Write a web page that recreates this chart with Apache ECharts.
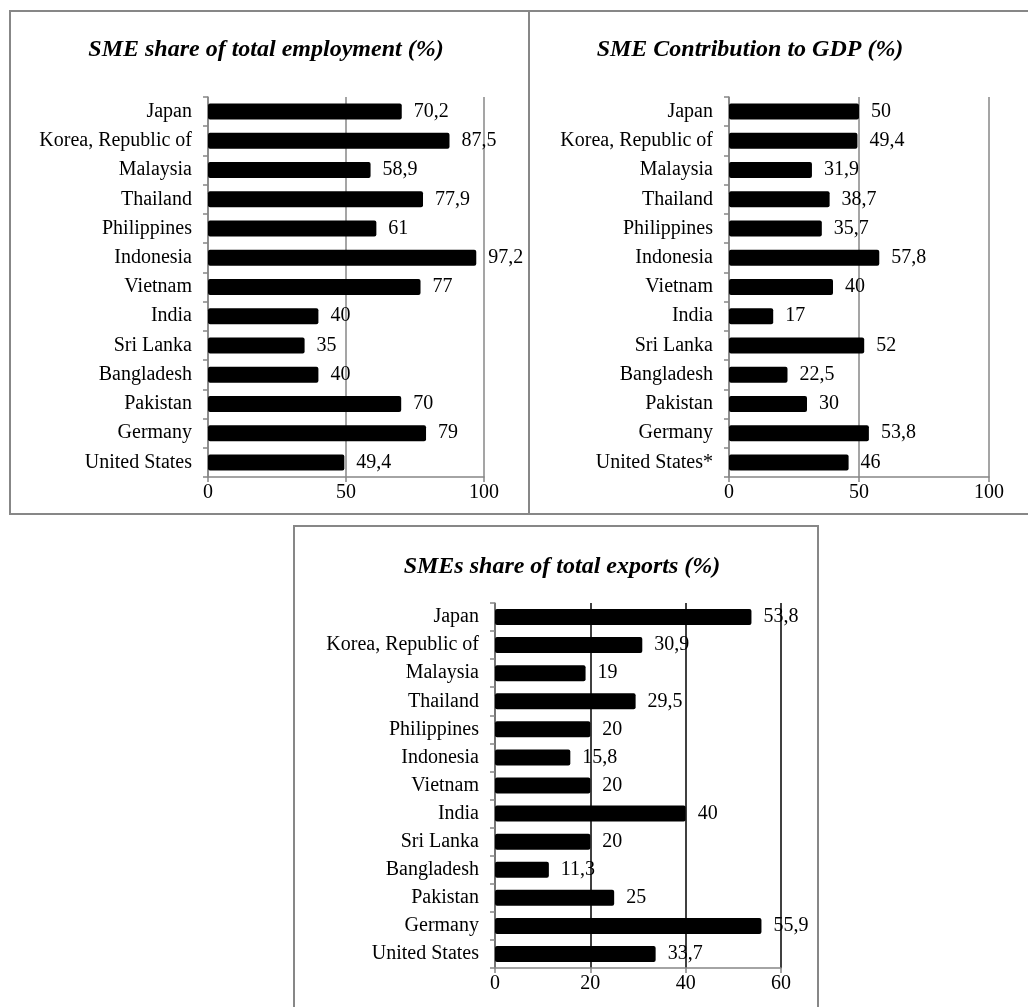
<!DOCTYPE html>
<html>
<head>
<meta charset="utf-8">
<script src="https://cdn.jsdelivr.net/npm/echarts@6/dist/echarts.min.js"></script>
<style>
  html, body { margin: 0; padding: 0; background: #fff; }
  #wrap { width: 1028px; height: 1007px; }
</style>
</head>
<body>
<div id="wrap"></div>
<script>
var countries = ['Japan', 'Korea, Republic of', 'Malaysia', 'Thailand', 'Philippines', 'Indonesia',
  'Vietnam', 'India', 'Sri Lanka', 'Bangladesh', 'Pakistan', 'Germany', 'United States'];
var countriesGdp = countries.slice(0, 12).concat(['United States*']);

var employment = [70.2, 87.5, 58.9, 77.9, 61, 97.2, 77, 40, 35, 40, 70, 79, 49.4];
var gdp = [50, 49.4, 31.9, 38.7, 35.7, 57.8, 40, 17, 52, 22.5, 30, 53.8, 46];
var exportsShare = [53.8, 30.9, 19, 29.5, 20, 15.8, 20, 40, 20, 11.3, 25, 55.9, 33.7];

var titles = ['SME share of total employment (%)', 'SME Contribution to GDP (%)', 'SMEs share of total exports (%)'];

var font = '"Liberation Serif", "Times New Roman", serif';
var gray = '#878787';

var wrap = document.getElementById('wrap');
var myChart = echarts.init(wrap);

function catAxis(idx, names) {
  return {
    type: 'category', gridIndex: idx, data: names, inverse: true,
    axisLine: { lineStyle: { color: gray, width: 1.5 } },
    axisTick: { show: true, length: 5, lineStyle: { color: gray, width: 1.5 } },
    axisLabel: { color: '#000', fontFamily: font, fontSize: 20, margin: 16 }
  };
}

function valAxis(idx, max, interval, gridColor) {
  return {
    type: 'value', gridIndex: idx, min: 0, max: max, interval: interval,
    axisLine: { show: true, lineStyle: { color: gray, width: 1.5 } },
    axisTick: { show: true, length: 5, lineStyle: { color: gray, width: 1.5 } },
    axisLabel: { color: '#000', fontFamily: font, fontSize: 20, margin: 6 },
    splitLine: { show: true, lineStyle: { color: gridColor, width: 1.5 } }
  };
}

function barSeries(idx, data) {
  return {
    type: 'bar', xAxisIndex: idx, yAxisIndex: idx, data: data,
    barWidth: 16,
    itemStyle: { color: '#000', borderRadius: 2 },
    label: {
      show: true, position: 'right', distance: 12, color: '#000',
      fontFamily: font, fontSize: 20,
      formatter: function (p) { return String(p.value).replace('.', ','); }
    },
    silent: true
  };
}

function titleOf(i, x, y) {
  return {
    text: titles[i], left: x, top: y, textAlign: 'center',
    textStyle: { fontFamily: font, fontSize: 24, fontWeight: 'bold', fontStyle: 'italic', color: '#000' }
  };
}

var option = {
  animation: false,
  title: [titleOf(0, 261, 33), titleOf(1, 745, 33), titleOf(2, 557, 550)],
  grid: [
    { left: 208, top: 97, width: 276, height: 380 },
    { left: 729, top: 97, width: 260, height: 380 },
    { left: 495, top: 603, width: 286, height: 365 }
  ],
  xAxis: [valAxis(0, 100, 50, gray), valAxis(1, 100, 50, gray), valAxis(2, 60, 20, '#000')],
  yAxis: [catAxis(0, countries), catAxis(1, countriesGdp), catAxis(2, countries)],
  series: [barSeries(0, employment), barSeries(1, gdp), barSeries(2, exportsShare)],
  graphic: [
    { type: 'rect', shape: { x: 10, y: 11, width: 519, height: 503 }, style: { fill: 'none', stroke: gray, lineWidth: 2 }, silent: true },
    { type: 'rect', shape: { x: 529, y: 11, width: 520, height: 503 }, style: { fill: 'none', stroke: gray, lineWidth: 2 }, silent: true },
    { type: 'rect', shape: { x: 294, y: 526, width: 524, height: 500 }, style: { fill: 'none', stroke: gray, lineWidth: 2 }, silent: true }
  ]
};

myChart.setOption(option);
</script>
</body>
</html>
